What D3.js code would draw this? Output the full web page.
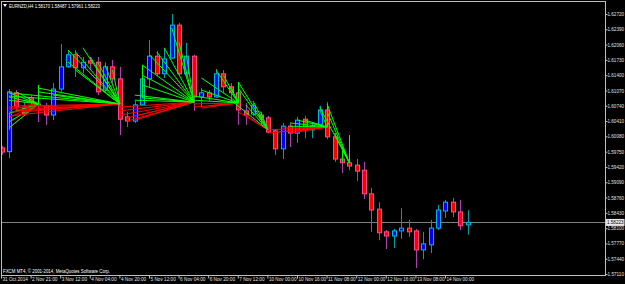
<!DOCTYPE html>
<html>
<head>
<meta charset="utf-8">
<script src="https://cdn.jsdelivr.net/npm/d3@7"></script>
<style>
  html, body { margin: 0; padding: 0; background: #000; }
  svg { display: block; font-family: "Liberation Sans", Arial, sans-serif; }
</style>
</head>
<body>
<div id="chart"></div>
<script>
// EURNZD H4, 31 Oct - 14 Nov 2014
const opens = [1.5983, 1.5975, 1.6102, 1.6071, 1.6091, 1.6078, 1.6074, 1.6054, 1.6110, 1.6158,
  1.6184, 1.6156, 1.6171, 1.6168, 1.6108, 1.6158, 1.6132, 1.6050, 1.6041, 1.6076,
  1.6132, 1.6181, 1.6143, 1.6177, 1.6248, 1.6143, 1.6181, 1.6093, 1.6102, 1.6093,
  1.6143, 1.6115, 1.6102, 1.6063, 1.6056, 1.6054, 1.6048, 1.6020, 1.5981, 1.6030,
  1.6015, 1.6045, 1.6022, 1.6033, 1.6065, 1.6007, 1.5959, 1.5951, 1.5946, 1.5935,
  1.5884, 1.5851, 1.5802, 1.5793, 1.5804, 1.5810, 1.5804, 1.5763, 1.5774, 1.5810,
  1.5847, 1.5866, 1.5845, 1.58170];
const highs = [1.5987, 1.6110, 1.6108, 1.6082, 1.6097, 1.6086, 1.6080, 1.6123, 1.6207, 1.6194,
  1.6194, 1.6179, 1.6179, 1.6179, 1.6168, 1.6173, 1.6158, 1.6061, 1.6084, 1.6140,
  1.6216, 1.6192, 1.6199, 1.6272, 1.6253, 1.6210, 1.6184, 1.6112, 1.6108, 1.6153,
  1.6151, 1.6123, 1.6108, 1.6080, 1.6080, 1.6061, 1.6052, 1.6022, 1.6037, 1.6037,
  1.6050, 1.6052, 1.6039, 1.6074, 1.6082, 1.6015, 1.5983, 1.5953, 1.5959, 1.5953,
  1.5897, 1.5866, 1.5806, 1.5808, 1.5853, 1.5828, 1.5808, 1.5802, 1.5828, 1.5860,
  1.5871, 1.5875, 1.5871, 1.58487];
const lows = [1.5968, 1.5961, 1.6062, 1.6054, 1.6076, 1.6039, 1.6033, 1.6043, 1.6104, 1.6156,
  1.6136, 1.6145, 1.6151, 1.6097, 1.6104, 1.6123, 1.6011, 1.6028, 1.6037, 1.6074,
  1.6112, 1.6138, 1.6134, 1.6175, 1.6138, 1.6138, 1.6063, 1.6071, 1.6084, 1.6091,
  1.6102, 1.6080, 1.6033, 1.6033, 1.6052, 1.6033, 1.6015, 1.5968, 1.5959, 1.5985,
  1.5994, 1.6004, 1.6004, 1.6028, 1.6002, 1.5953, 1.5929, 1.5935, 1.5912, 1.5873,
  1.5802, 1.5784, 1.5765, 1.5767, 1.5787, 1.5791, 1.5724, 1.5743, 1.5756, 1.5806,
  1.5832, 1.5834, 1.5806, 1.57961];
const closes = [1.5974, 1.6104, 1.6072, 1.6058, 1.6082, 1.6074, 1.6054, 1.6110, 1.6158, 1.6184,
  1.6156, 1.6168, 1.6166, 1.6104, 1.6158, 1.6132, 1.6045, 1.6041, 1.6076, 1.6132,
  1.6181, 1.6143, 1.6175, 1.6248, 1.6143, 1.6181, 1.6093, 1.6102, 1.6093, 1.6143,
  1.6115, 1.6102, 1.6065, 1.6054, 1.6074, 1.6048, 1.6017, 1.5981, 1.6030, 1.6015,
  1.6043, 1.6022, 1.6030, 1.6065, 1.6007, 1.5959, 1.5951, 1.5944, 1.5933, 1.5884,
  1.5849, 1.5800, 1.5793, 1.5804, 1.5810, 1.5802, 1.5763, 1.5776, 1.5810, 1.5849,
  1.5866, 1.5845, 1.5815, 1.58223];

const timeLabels = ['31 Oct 2014', '2 Nov 21:00', '3 Nov 12:00', '4 Nov 04:00', '4 Nov 20:00',
  '5 Nov 12:00', '6 Nov 04:00', '6 Nov 20:00', '7 Nov 12:00', '10 Nov 00:00', '10 Nov 16:00',
  '11 Nov 08:00', '12 Nov 00:00', '12 Nov 16:00', '13 Nov 08:00', '14 Nov 00:00'];
const timeLabelStep = 4;
const priceTicks = [1.57110, 1.57440, 1.57770, 1.58100, 1.58430, 1.58760, 1.59090, 1.59420, 1.59750,
  1.60080, 1.60410, 1.60740, 1.61070, 1.61400, 1.61730, 1.62060, 1.62390, 1.62720];
const lastPrice = 1.58223;
const title = 'EURNZD,H4  1.58170 1.58487 1.57961 1.58223';
const copyright = 'FXCM MT4, \u00a9 2001-2014, MetaQuotes Software Corp.';

// indicator fans: anchor [bar, price] and the points its lines run back to
const fanAnchors = [[5, 1.6078], [16, 1.6078], [26, 1.6082], [32, 1.6080], [36, 1.6022], [44, 1.6028], [47, 1.5951]];
const fanGreen = [
  [[1, 1.6102], [1, 1.6093], [1, 1.6086], [2, 1.6104], [3, 1.6086], [1, 1.6058], [1, 1.6039], [1, 1.6026]],
  [[9, 1.6194], [10, 1.6190], [11, 1.6199], [12, 1.6179], [13, 1.6168], [14, 1.6162], [15, 1.6151], [9, 1.6168],
   [10, 1.6151], [1, 1.6102], [1, 1.6095], [5, 1.6112], [5, 1.6104], [7, 1.6097]],
  [[18, 1.6097], [18, 1.6086], [19, 1.6162], [19, 1.6140], [19, 1.6119], [19, 1.6091], [20, 1.6184], [21, 1.6190],
   [22, 1.6199], [23, 1.6242], [24, 1.6210], [25, 1.6181]],
  [[26, 1.6095], [26, 1.6086], [27, 1.6134], [29, 1.6151], [30, 1.6140], [31, 1.6115], [27, 1.6108]],
  [[32, 1.6125], [32, 1.6112], [31, 1.6086], [33, 1.6076], [34, 1.6084], [35, 1.6061]],
  [[39, 1.6037], [40, 1.6043], [41, 1.6043], [42, 1.6037], [43, 1.6065], [39, 1.6030]],
  [[43, 1.6071], [44, 1.6078], [44, 1.6061], [45, 1.6015], [46, 1.5983]]
];
const fanRed = [
  [[1, 1.6071], [1, 1.6065], [1, 1.6056], [1, 1.6048], [1, 1.6037], [1, 1.6026], [2, 1.6061], [3, 1.6058]],
  [[1, 1.6069], [1, 1.6061], [1, 1.6052], [2, 1.6065], [3, 1.6061], [4, 1.6074]],
  [[16, 1.6071], [16, 1.6063], [16, 1.6054], [17, 1.6048], [17, 1.6041], [18, 1.6043], [18, 1.6052]],
  [[26, 1.6078], [26, 1.6071], [27, 1.6069], [28, 1.6074]],
  [[32, 1.6061], [33, 1.6054]],
  [[36, 1.6022], [36, 1.6015], [37, 1.6017], [38, 1.6026], [39, 1.6015], [40, 1.6020], [41, 1.6022], [42, 1.6026]],
  []
];
const greenStems = [[1, 1.6058, 1.6022], [5, 1.6119, 1.6080], [19, 1.6162, 1.6091], [32, 1.6125, 1.6082],
  [44, 1.6074, 1.6028], [46, 1.5981, 1.5953], [47, 1.6011, 1.5951]];

const width = 625, height = 284;
const plot = {left: 1, top: 1, right: 605, bottom: 275};
const charW = 2.3; // the screenshot's tiny terminal font, px per character

const svg = d3.select('#chart').append('svg')
    .attr('width', width)
    .attr('height', height);

svg.append('rect').attr('width', width).attr('height', height).attr('fill', '#000');

const x = d3.scaleLinear()
    .domain([0, 63])
    .range([1.5, 467.7]);

const y = d3.scaleLinear()
    .domain([1.57110, 1.62720])
    .range([274, 14]);

const bodyW = 5;

// frame
svg.append('rect')
    .attr('x', plot.left + 0.5)
    .attr('y', plot.top + 0.5)
    .attr('width', plot.right - plot.left)
    .attr('height', plot.bottom - plot.top)
    .attr('fill', 'none')
    .attr('stroke', '#c0c0c0')
    .attr('stroke-width', 1);

svg.append('clipPath').attr('id', 'plotclip')
  .append('rect')
    .attr('x', plot.left + 1).attr('y', plot.top + 1)
    .attr('width', plot.right - plot.left - 1).attr('height', plot.bottom - plot.top - 1);

const g = svg.append('g').attr('clip-path', 'url(#plotclip)');

// bid line
g.append('line')
    .attr('x1', plot.left).attr('x2', plot.right)
    .attr('y1', Math.round(y(lastPrice)) + 0.5).attr('y2', Math.round(y(lastPrice)) + 0.5)
    .attr('stroke', '#808080');

// candles
const bars = d3.range(opens.length).map(i => ({
  i, o: opens[i], h: highs[i], l: lows[i], c: closes[i], up: closes[i] >= opens[i]
}));

const candle = g.append('g').selectAll('g')
    .data(bars)
  .enter().append('g');

candle.append('line')
    .attr('x1', d => Math.round(x(d.i)) + 0.5)
    .attr('x2', d => Math.round(x(d.i)) + 0.5)
    .attr('y1', d => y(d.h))
    .attr('y2', d => y(d.l))
    .attr('stroke', d => d.up ? '#00a0a0' : '#b040b0');

candle.append('rect')
    .attr('x', d => Math.round(x(d.i)) - 2 + 0.5)
    .attr('y', d => y(Math.max(d.o, d.c)))
    .attr('width', bodyW - 1)
    .attr('height', d => Math.max(1, y(Math.min(d.o, d.c)) - y(Math.max(d.o, d.c))))
    .attr('fill', d => d.up ? '#0000ff' : '#ff0000')
    .attr('stroke', d => d.up ? '#00b8e0' : '#ff4a8a')
    .attr('stroke-width', 1);

// indicator fans
const fanLines = g.append('g');
fanAnchors.forEach((a, k) => {
  fanLines.selectAll(null)
      .data(fanRed[k])
    .enter().append('line')
      .attr('x1', x(a[0])).attr('y1', y(a[1]))
      .attr('x2', d => x(d[0])).attr('y2', d => y(d[1]))
      .attr('stroke', '#ff0000')
      .attr('stroke-width', 1);
  fanLines.selectAll(null)
      .data(fanGreen[k])
    .enter().append('line')
      .attr('x1', x(a[0])).attr('y1', y(a[1]))
      .attr('x2', d => x(d[0])).attr('y2', d => y(d[1]))
      .attr('stroke', '#00ff00')
      .attr('stroke-width', 1);
});

fanLines.selectAll('.stem')
    .data(greenStems)
  .enter().append('line')
    .attr('class', 'stem')
    .attr('x1', d => Math.round(x(d[0])) + 0.5).attr('x2', d => Math.round(x(d[0])) + 0.5)
    .attr('y1', d => y(d[1])).attr('y2', d => y(d[2]))
    .attr('stroke', '#00ff00');

// price axis
const fmt = d3.format('.5f');
const yAxis = svg.append('g')
    .attr('transform', `translate(${plot.right + 0.5},0)`)
    .call(d3.axisRight(y).tickValues(priceTicks).tickSize(2).tickFormat(fmt));
yAxis.select('.domain')
    .attr('stroke', '#c0c0c0')
    .attr('d', `M0,${plot.top}V${plot.bottom + 0.5}`);
yAxis.selectAll('.tick line').attr('stroke', '#c0c0c0');
yAxis.selectAll('.tick text')
    .attr('x', 2)
    .attr('fill', '#e0e0e0')
    .attr('textLength', 16.5)
    .attr('lengthAdjust', 'spacingAndGlyphs')
    .style('font-size', '4.8px');

// bid label
const bidG = svg.append('g')
    .attr('transform', `translate(${plot.right + 1},${y(lastPrice)})`);
bidG.append('rect')
    .attr('x', 0).attr('y', -3.5).attr('width', 18.5).attr('height', 7)
    .attr('fill', '#e8e8e8');
bidG.append('text')
    .attr('x', 1).attr('y', 1.8)
    .attr('fill', '#000')
    .attr('textLength', 16.5)
    .attr('lengthAdjust', 'spacingAndGlyphs')
    .style('font-size', '4.8px')
    .text(fmt(lastPrice));

// time axis
const timeIdx = timeLabels.map((_, k) => k * timeLabelStep);
const xAxis = svg.append('g')
    .attr('transform', `translate(0,${plot.bottom + 0.5})`)
    .call(d3.axisBottom(x).tickValues(timeIdx).tickSize(3).tickFormat((d, k) => timeLabels[k]));
xAxis.select('.domain').remove();
xAxis.selectAll('.tick line')
    .attr('stroke', '#c0c0c0')
    .attr('transform', 'translate(-0.5,0)');
xAxis.selectAll('.tick text')
    .attr('text-anchor', 'start')
    .attr('x', 0.5)
    .attr('y', 2)
    .attr('fill', '#e0e0e0')
    .attr('textLength', (d, k) => timeLabels[k].length * charW)
    .attr('lengthAdjust', 'spacingAndGlyphs')
    .style('font-size', '5.2px');

// header and footer text
svg.append('path')
    .attr('d', 'M3,4L7,4L5,7Z')
    .attr('fill', '#fff');
svg.append('text')
    .attr('x', 9).attr('y', 7.5)
    .attr('fill', '#fff')
    .attr('textLength', 91)
    .attr('lengthAdjust', 'spacingAndGlyphs')
    .style('font-size', '5.2px')
    .text(title);
svg.append('text')
    .attr('x', 3).attr('y', 273)
    .attr('fill', '#fff')
    .attr('textLength', 107)
    .attr('lengthAdjust', 'spacingAndGlyphs')
    .style('font-size', '5.2px')
    .text(copyright);
</script>
</body>
</html>
